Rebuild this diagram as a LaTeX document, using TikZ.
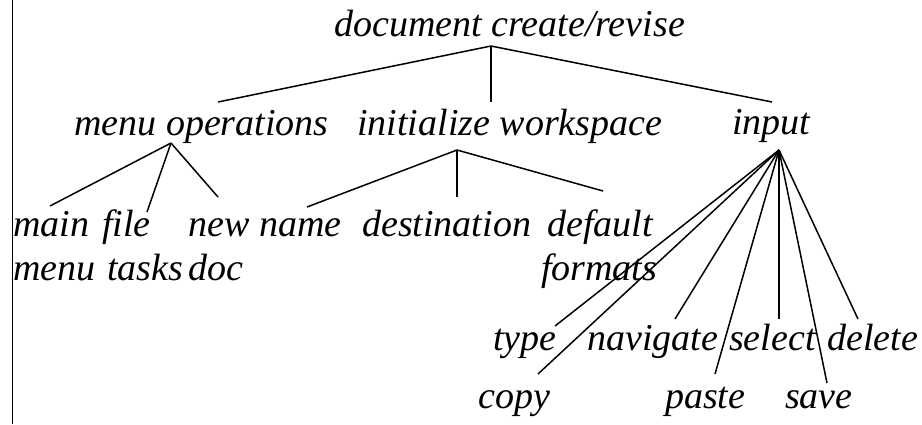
\documentclass[tikz,border=0pt]{standalone}
\usepackage{fontspec}
\setmainfont{Liberation Serif}
\begin{document}
\begin{tikzpicture}[x=1pt,y=-1pt,
  lbl/.style={anchor=base west,inner sep=0pt,font=\fontsize{38}{45}\selectfont\itshape},
  edge/.style={line width=1.5pt,black}]
\useasboundingbox (0,0) rectangle (922,424);
\coordinate (lt) at (12,0);
\coordinate (lb) at (12,424);
\draw[line width=1pt] (lt) -- (lb);
% labels
\node[lbl] (root) at (334,36) {document create/revise};
\node[lbl] (mo) at (74,135) {menu operations};
\node[lbl] (iw) at (357,135) {initialize workspace};
\node[lbl] (inp) at (732,134) {input};
\node[lbl] (main) at (13,236) {main};
\node[lbl] (menu) at (13,280) {menu};
\node[lbl] (file) at (102,236) {file};
\node[lbl] (tasks) at (107,280) {tasks};
\node[lbl] (new) at (188,236) {new};
\node[lbl] (doc) at (188,280) {doc};
\node[lbl] (name) at (259,236) {name};
\node[lbl] (dest) at (362,236) {destination};
\node[lbl] (def) at (547,236) {default};
\node[lbl] (fmt) at (541,280) {formats};
\node[lbl] (type) at (493,350) {type};
\node[lbl] (nav) at (587,350) {navigate};
\node[lbl] (sel) at (729,350) {select};
\node[lbl] (del) at (827,350) {delete};
\node[lbl] (copy) at (478,408) {copy};
\node[lbl] (paste) at (665,408) {paste};
\node[lbl] (save) at (785,408) {save};
% junctions and end points
\coordinate (j0) at (491,46);
\coordinate (e-mo) at (218,102);
\coordinate (e-iw) at (491,102);
\coordinate (e-inp) at (772,102);
\coordinate (j1) at (171,143);
\coordinate (e-main) at (50,206);
\coordinate (e-file) at (147,212);
\coordinate (e-new) at (218,197);
\coordinate (j2) at (457,150);
\coordinate (e-name) at (307,207);
\coordinate (e-dest) at (457,197);
\coordinate (e-def) at (603,191);
\coordinate (j3) at (779,150);
\coordinate (e-type) at (555,326);
\coordinate (e-copy) at (538,374);
\coordinate (e-nav) at (675,319);
\coordinate (e-paste) at (715,374);
\coordinate (e-sel) at (779,319);
\coordinate (e-save) at (827,383);
\coordinate (e-del) at (858,319);
% connectors
\draw[edge] (j0) -- (e-mo);
\draw[edge] (j0) -- (e-iw);
\draw[edge] (j0) -- (e-inp);
\draw[edge] (j1) -- (e-main);
\draw[edge] (j1) -- (e-file);
\draw[edge] (j1) -- (e-new);
\draw[edge] (j2) -- (e-name);
\draw[edge] (j2) -- (e-dest);
\draw[edge] (j2) -- (e-def);
\draw[edge] (j3) -- (e-type);
\draw[edge] (j3) -- (e-copy);
\draw[edge] (j3) -- (e-nav);
\draw[edge] (j3) -- (e-paste);
\draw[edge] (j3) -- (e-sel);
\draw[edge] (j3) -- (e-save);
\draw[edge] (j3) -- (e-del);
\end{tikzpicture}
\end{document}
